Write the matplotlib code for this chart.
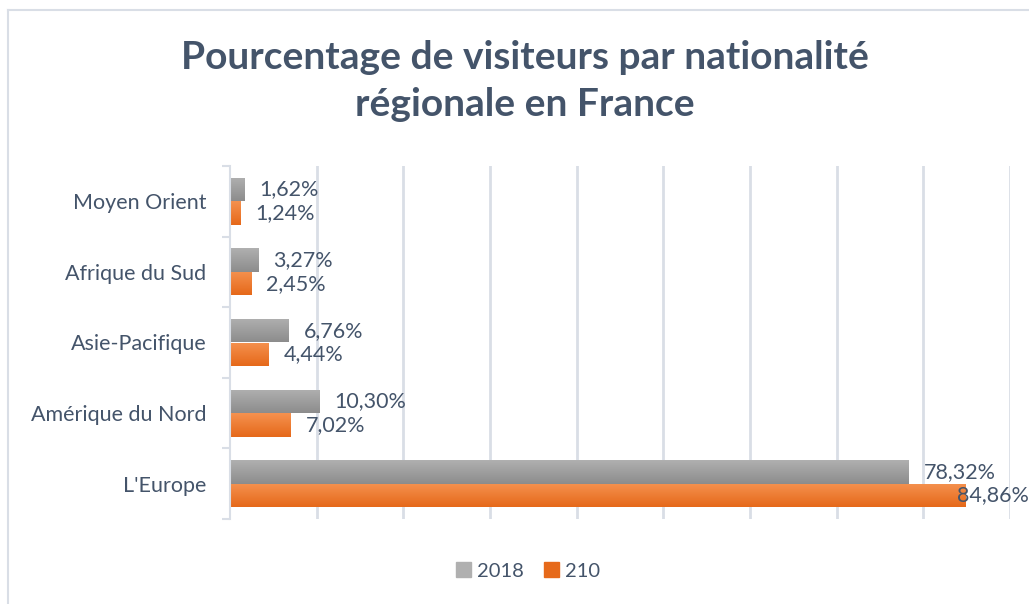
import matplotlib
matplotlib.use("Agg")
import matplotlib.pyplot as plt
import numpy as np
from matplotlib.lines import Line2D

categories = ["Moyen Orient", "Afrique du Sud", "Asie-Pacifique", "Amérique du Nord", "L'Europe"]
series_names = ["2018", "210"]
values_2018 = [1.62, 3.27, 6.76, 10.30, 78.32]
values_210 = [1.24, 2.45, 4.44, 7.02, 84.86]
title = "Pourcentage de visiteurs par nationalité\nrégionale en France"

W, H = 1029, 604
fig = plt.figure(figsize=(W / 100, H / 100), dpi=100)
TXT = "#44546A"
FONT = "Lato"

def fx(px):
    return px / W

def fy(py):
    return 1 - py / H

ax = fig.add_axes([fx(230), fy(519), fx(1010) - fx(230), fy(166) - fy(519)])

n = len(categories)
y = np.arange(n)
bh = 1 / 3.0
grad_gray = [(0.69, 0.69, 0.69), (0.55, 0.55, 0.55)]
grad_orange = [(0.96, 0.57, 0.31), (0.90, 0.41, 0.10)]

def gradient_bars(bars, cols):
    c0 = np.array(cols[0]); c1 = np.array(cols[1])
    t = np.linspace(0, 1, 64)[:, None]
    img = (c0 * (1 - t) + c1 * t)[:, None, :]
    for b in bars:
        x0 = b.get_x(); x1 = x0 + b.get_width()
        y0 = b.get_y(); y1 = y0 + b.get_height()
        im = ax.imshow(img, extent=(x0, x1, y1, y0), origin="upper",
                       aspect="auto", zorder=2, interpolation="bilinear")
        im.set_clip_path(b)

b1 = ax.barh(y - bh / 2, values_2018, height=bh, color="none", edgecolor="none", zorder=2)
b2 = ax.barh(y + bh / 2, values_210, height=bh, color="none", edgecolor="none", zorder=2)
gradient_bars(b1, grad_gray)
gradient_bars(b2, grad_orange)

ax.set_xlim(0, 90)
ax.set_ylim(n - 0.5, -0.5)
ax.set_xticks(np.arange(10, 91, 10))
ax.tick_params(axis="x", length=0, labelbottom=False)
ax.grid(axis="x", color="#D9DEE6", linewidth=2, zorder=0)
ax.set_axisbelow(True)
for s in ["top", "right", "bottom"]:
    ax.spines[s].set_visible(False)
ax.spines["left"].set_color("#D9DEE6")
ax.spines["left"].set_linewidth(1.5)

ax.set_yticks(y)
ax.set_yticklabels(categories, fontfamily=FONT, fontsize=15.5, color=TXT)
ax.tick_params(axis="y", which="major", length=0, pad=17)
ax.set_yticks(np.arange(-0.5, n, 1), minor=True)
ax.tick_params(axis="y", which="minor", length=6, color="#D9DEE6", width=1.5)

def fmt(v):
    return ("%.2f%%" % v).replace(".", ",")

labels = []
for bars, vals in ((b1, values_2018), (b2, values_210)):
    for b, v in zip(bars, vals):
        t = ax.annotate(fmt(v), xy=(v, b.get_y() + b.get_height() / 2),
                        xytext=(15, 0), textcoords="offset pixels",
                        ha="left", va="center", fontfamily=FONT, fontsize=15.5,
                        color=TXT, annotation_clip=False, zorder=5)
        labels.append(t)

fig.canvas.draw()
r = fig.canvas.get_renderer()
for t in labels:
    bb = t.get_window_extent(r)
    if bb.x1 > W:
        t.set_position((15 - (bb.x1 - W), 0))

fig.text(fx(525), fy(81), title, ha="center", va="center", fontfamily=FONT,
         fontweight="bold", fontsize=28, color=TXT, linespacing=1.4)

# legend
leg_handles = [plt.Rectangle((0, 0), 1, 1, color=grad_gray[0]),
               plt.Rectangle((0, 0), 1, 1, color=grad_orange[1])]
fig.legend(leg_handles, series_names, loc="center", bbox_to_anchor=(fx(528), fy(571)),
           ncol=2, frameon=False, prop={"family": FONT, "size": 14.5},
           labelcolor=TXT, handlelength=0.75, handleheight=0.75, handletextpad=0.3,
           columnspacing=1.0)

# chart border
fig.add_artist(Line2D([fx(8), fx(8)], [fy(10), 0], color="#D9DEE6", lw=1.5))
fig.add_artist(Line2D([fx(8), 1], [fy(10), fy(10)], color="#D9DEE6", lw=1.5))

fig.savefig("out.png", dpi=100)
